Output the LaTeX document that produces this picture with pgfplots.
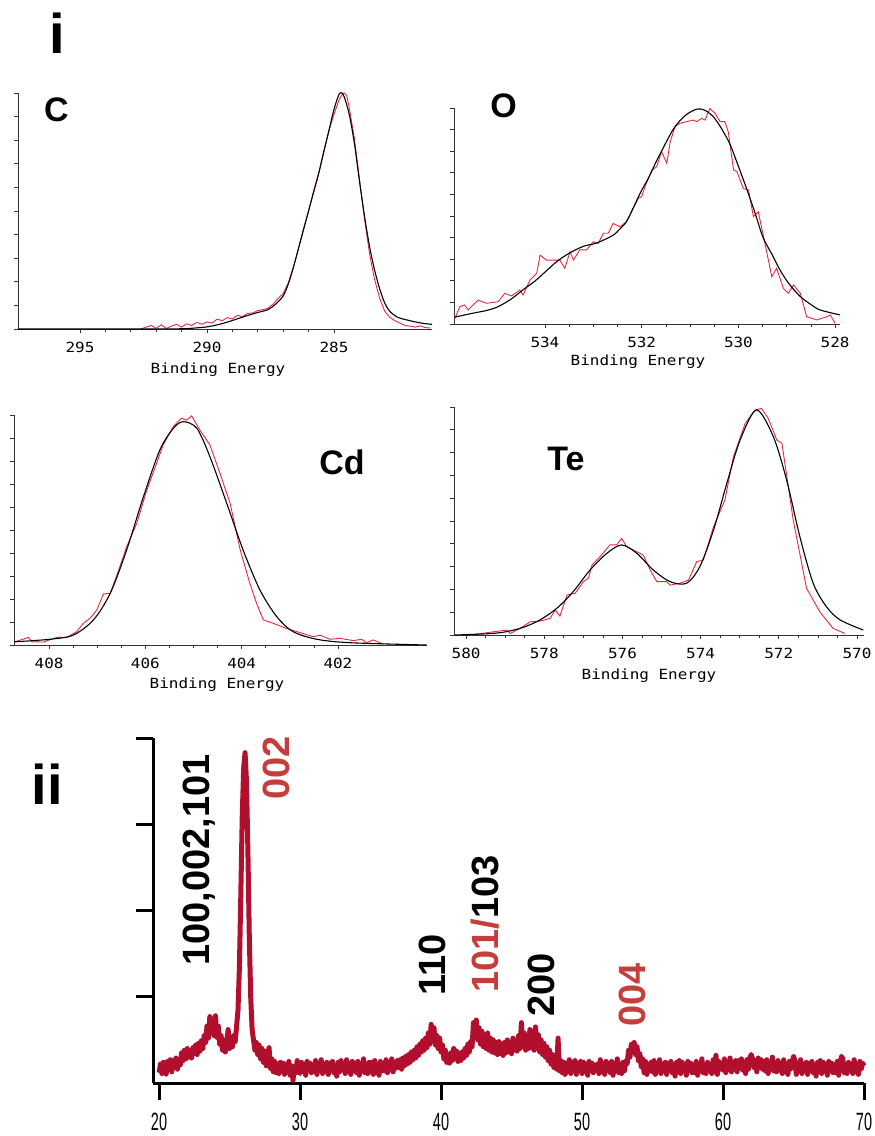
\documentclass[border=0pt]{standalone}
\usepackage{fontspec}
\setmainfont{Liberation Sans}
\newfontfamily\xpsfont{DejaVu Sans Mono}
\usepackage{pgfplots}
\pgfplotsset{compat=1.18}
\definecolor{xpsred}{RGB}{232,40,60}
\definecolor{xrdred}{RGB}{178,14,46}
\definecolor{lblred}{RGB}{198,62,58}
\pgfplotsset{
  xps/.style={
    scale only axis, anchor=south west,
    axis x line=bottom, axis y line=left,
    axis line style={-, line width=0.9pt, black!80},
    x dir=reverse,
    ymin=0, ymax=100,
    ytick={0,10,...,100}, yticklabels={},
    tick align=outside,
    major tick length=3.5pt, minor tick length=2.5pt,
    tick style={line width=0.7pt, black!80},
    /pgf/number format/assume math mode=true,
    xticklabel style={font=\xpsfont\fontsize{14}{14}\selectfont, xscale=1.14},
    xticklabel shift=6pt,
    clip=false,
  },
  fitline/.style={black, line width=1.1pt, smooth},
  dataline/.style={xpsred, line width=0.9pt},
}
\newcommand{\elfont}{\bfseries\fontsize{34}{36}\selectfont}
\newcommand{\befont}{\xpsfont\fontsize{14}{14}\selectfont}
\newcommand{\pkfont}{\bfseries\fontsize{38}{40}\selectfont}
\begin{document}
\begin{tikzpicture}
\useasboundingbox (0pt,0pt) rectangle (875pt,-1136pt);

% ---------------- C ----------------
\begin{axis}[xps, at={(18pt,-329pt)}, width=414pt, height=236pt,
  xmin=281.14, xmax=297.44, xtick={295,290,285}, minor x tick num=4]
\addplot[dataline] coordinates {(292.6,0)(292.4,0.8)(292.2,1.5)(292.0,0.3)(291.8,1.8)(291.6,0.2)(291.4,1.2)(291.2,2.0)(291.0,0.8)(290.8,2.2)(290.6,1.5)(290.4,2.8)(290.2,2.0)(290.0,3.0)(289.8,2.5)(289.6,4.2)(289.4,3.5)(289.2,4.8)(289.0,4.3)(288.8,5.8)(288.6,5.2)(288.4,6.6)(288.2,6.8)(288.0,7.8)(287.8,8.2)(287.6,8.8)(287.4,10.5)(287.2,13)(287.0,15)(286.8,19.5)(286.6,26)(286.4,34)(286.2,42.5)(286.0,50)(285.8,58.5)(285.6,66)(285.4,75.5)(285.2,84)(285.0,91)(284.8,97)(284.7,99)(284.6,100)(284.5,99)(284.4,94)(284.2,81)(284.0,64)(283.8,47)(283.6,32)(283.4,21)(283.2,13)(283.0,7.5)(282.8,5)(282.6,3.5)(282.4,2.5)(282.2,1.5)(282.0,1.2)(281.8,0.8)(281.6,1.3)(281.4,0.6)(281.2,0.4)};
\addplot[fitline] coordinates {(297.44,0)(293,0)(291,0.1)(290.5,0.4)(290,0.9)(289.5,2)(289,3.6)(288.5,5.4)(288,7)(287.6,8.2)(287.3,10.5)(287,14)(286.8,19)(286.6,26)(286.4,34)(286.2,42)(286,50)(285.8,58)(285.6,66)(285.4,75)(285.2,84)(285,93)(284.8,99.5)(284.7,100)(284.6,98.5)(284.4,91)(284.2,79)(284,63)(283.8,48)(283.6,35)(283.4,25)(283.2,17)(283,11)(282.8,7.5)(282.5,5)(282,3.5)(281.5,2.4)(281.14,2)};
\end{axis}

% ---------------- O ----------------
\begin{axis}[xps, at={(454pt,-324pt)}, width=386pt, height=216pt,
  xmin=527.9, xmax=535.88, xtick={534,532,530,528}, minor x tick num=3]
\addplot[dataline] coordinates {(535.86,2.6)(535.76,8.0)(535.66,8.8)(535.59,6.5)(535.38,11.1)(535.21,9.6)(534.97,10.3)(534.83,14.2)(534.69,13)(534.52,15.7)(534.45,13.4)(534.31,20.4)(534.17,23.5)(534.10,31.9)(533.97,29.6)(533.69,29.6)(533.59,25.8)(533.48,33.5)(533.41,29.6)(533.28,34.3)(533.14,34.3)(533.00,38.1)(532.90,37.3)(532.79,42)(532.69,42)(532.59,46.6)(532.45,45)(532.31,47.4)(532.21,52)(532.07,58.2)(532.00,58.9)(531.93,63.6)(531.79,71.3)(531.69,72.8)(531.59,79.8)(531.48,74.4)(531.41,84.4)(531.31,91.4)(531.21,92.9)(531.07,93.7)(530.93,94.4)(530.86,93.7)(530.76,95.2)(530.69,94.4)(530.59,99.8)(530.48,97.5)(530.38,93.7)(530.28,93.7)(530.21,89)(530.10,71.3)(530.03,70.5)(529.90,62.8)(529.79,62)(529.69,49.7)(529.59,52)(529.48,40.4)(529.31,21.9)(529.21,25.8)(529.07,16.5)(528.97,14.2)(528.86,18.1)(528.72,14.2)(528.59,3.4)(528.38,1.9)(528.17,3.4)(528.10,4.2)(528.00,0.3)};
\addplot[fitline] coordinates {(535.86,3.2)(535.49,5)(535.2,6.3)(534.97,8)(534.7,11.5)(534.46,15.7)(534.2,20)(534,24)(533.75,29)(533.48,33)(533.2,36)(532.93,37.5)(532.6,41)(532.45,44)(532.3,48)(532.03,60.6)(531.85,68)(531.68,76)(531.35,90)(531.1,96.5)(530.86,99.5)(530.7,99)(530.52,96)(530.35,90.5)(530.17,83)(530.0,73)(529.82,62)(529.65,51)(529.49,40)(529.3,32)(529.14,25)(528.95,18.5)(528.72,12.7)(528.5,9)(528.31,6.5)(527.9,4.2)};
\end{axis}

% ---------------- Cd ----------------
\begin{axis}[xps, at={(14pt,-645pt)}, width=413pt, height=230pt,
  xmin=400.15, xmax=408.73, xtick={408,406,404,402}, minor x tick num=3]
\addplot[dataline] coordinates {(408.71,1.4)(408.43,3.3)(408.36,1.4)(408.12,1.3)(407.84,3.3)(407.63,3.3)(407.43,5.8)(407.29,9.4)(407.15,11.6)(407.01,15.2)(406.87,22.2)(406.73,22.5)(406.59,30.4)(406.39,42.7)(406.18,52.9)(405.97,67.4)(405.83,75.4)(405.63,87)(405.42,95)(405.25,98.6)(405.14,97.8)(405.04,99.6)(404.87,93.5)(404.66,87)(404.45,74.6)(404.24,61.6)(404.03,41.3)(403.83,26.8)(403.69,18.1)(403.55,10.9)(403.34,9.4)(403.07,7.2)(402.79,5.4)(402.51,3.6)(402.37,4.3)(402.17,2.5)(401.96,2.9)(401.68,1.9)(401.51,2.5)(401.40,1.0)(401.27,2.2)(401.06,0.4)};
\addplot[fitline] coordinates {(408.71,1.4)(407.98,2.5)(407.5,4.3)(407.08,10.9)(406.73,22.5)(406.39,41.3)(406.04,64.5)(405.70,84.8)(405.42,94.2)(405.21,97.1)(404.93,94.2)(404.66,81.9)(404.31,61.6)(403.97,41.3)(403.62,23.9)(403.27,12.3)(402.93,5.8)(402.44,2.5)(401.75,1.0)(400.16,0)};
\end{axis}

% ---------------- Te ----------------
\begin{axis}[xps, at={(454pt,-635pt)}, width=410pt, height=228pt,
  xmin=569.82, xmax=580.31, xtick={580,578,576,574,572,570}, minor x tick num=3]
\addplot[dataline] coordinates {(579.9,0)(578.96,2.2)(578.87,0.7)(578.62,2.9)(578.36,5.8)(578.11,6.1)(577.85,7.3)(577.72,11)(577.60,8.3)(577.42,17.5)(577.21,18.3)(577.00,23.4)(576.87,24.9)(576.78,30.7)(576.57,34.4)(576.32,39.5)(576.15,39.5)(576.02,42.4)(575.89,38.7)(575.63,36.5)(575.47,35.1)(575.29,28.5)(575.12,23.4)(574.87,23.4)(574.78,21.9)(574.53,22.7)(574.31,24.1)(574.10,32.2)(573.93,32.9)(573.67,47.5)(573.38,59.2)(573.16,78.2)(572.86,92.8)(572.61,98.7)(572.44,99.4)(572.27,95)(572.05,85.5)(571.92,84.1)(571.63,50.4)(571.29,20.5)(570.95,10.2)(570.61,2.9)(570.31,0.7)};
\addplot[fitline] coordinates {(580.28,0)(579.39,0.6)(578.96,1.5)(578.53,3.4)(578.11,6.6)(577.68,11.7)(577.26,19)(576.83,28.5)(576.40,35.8)(576.02,39.5)(575.63,35.8)(575.21,28.5)(574.78,23.4)(574.36,22.7)(574.02,30)(573.67,46)(573.33,66.5)(572.99,85.5)(572.57,98.7)(572.14,87)(571.80,68)(571.46,43.1)(571.12,22.7)(570.78,12.4)(570.43,6.6)(569.84,2.2)};
\end{axis}

% ---------------- XRD ----------------
\begin{axis}[scale only axis, anchor=south west, at={(153pt,-1083pt)},
  width=711pt, height=345pt,
  xmin=19.57, xmax=70, ymin=0, ymax=4,
  axis x line=bottom, axis y line=left,
  axis line style={-, line width=3pt, black},
  xtick={20,30,...,70}, ytick={1,2,3,4}, yticklabels={},
  tick align=outside, major tick length=17pt,
  tick style={line width=3pt, black},
  /pgf/number format/assume math mode=true,
  xticklabel style={font=\fontsize{25}{25}\selectfont, xscale=0.58},
  xticklabel shift=9pt,
  clip=false]
\addplot[xrdred, line width=5pt, line join=round] coordinates {
(20.0,0.12)(20.1,0.22)(20.2,0.11)(20.3,0.24)(20.4,0.15)(20.5,0.10)(20.6,0.25)(20.7,0.17)(20.8,0.27)(20.9,0.13)
(21.0,0.26)(21.1,0.19)(21.2,0.29)(21.3,0.16)(21.4,0.27)(21.5,0.21)(21.6,0.35)(21.7,0.26)(21.8,0.38)(21.9,0.28)
(22.0,0.40)(22.1,0.30)(22.2,0.37)(22.3,0.29)(22.4,0.41)(22.5,0.34)(22.6,0.44)(22.7,0.33)(22.8,0.46)(22.9,0.37)
(23.0,0.49)(23.1,0.40)(23.2,0.55)(23.3,0.47)(23.4,0.66)(23.5,0.52)(23.6,0.77)(23.7,0.58)(23.8,0.74)(23.9,0.55)
(24.0,0.78)(24.1,0.53)(24.2,0.66)(24.3,0.45)(24.4,0.55)(24.5,0.38)(24.6,0.50)(24.7,0.36)(24.8,0.47)(24.9,0.62)
(25.0,0.40)(25.1,0.52)(25.2,0.42)(25.3,0.55)(25.4,0.48)(25.5,0.66)(25.6,0.85)(25.7,1.35)(25.8,2.20)(25.9,3.10)
(26.0,3.65)(26.1,3.83)(26.2,3.50)(26.3,2.70)(26.4,1.70)(26.5,1.00)(26.6,0.62)(26.7,0.50)(26.8,0.38)(26.9,0.47)
(27.0,0.33)(27.1,0.44)(27.2,0.28)(27.3,0.40)(27.4,0.24)(27.5,0.37)(27.6,0.20)(27.7,0.30)(27.8,0.41)(27.9,0.17)
(28.0,0.28)(28.1,0.13)(28.2,0.25)(28.3,0.12)(28.4,0.22)(28.5,0.11)(28.6,0.24)(28.7,0.14)(28.8,0.23)(28.9,0.10)
(29.0,0.21)(29.1,0.13)(29.2,0.25)(29.3,0.09)(29.4,0.20)(29.5,0.03)(29.6,0.19)(29.7,0.12)(29.8,0.26)(29.9,0.14)
(30.0,0.11)(30.1,0.24)(30.2,0.14)(30.3,0.22)(30.4,0.09)(30.5,0.25)(30.6,0.15)(30.7,0.23)(30.8,0.12)(30.9,0.21)
(31.0,0.13)(31.1,0.26)(31.2,0.10)(31.3,0.20)(31.4,0.15)(31.5,0.27)(31.6,0.11)(31.7,0.22)(31.8,0.14)(31.9,0.24)
(32.0,0.10)(32.1,0.23)(32.2,0.16)(32.3,0.25)(32.4,0.12)(32.5,0.20)(32.6,0.08)(32.7,0.24)(32.8,0.13)(32.9,0.26)
(33.0,0.15)(33.1,0.22)(33.2,0.11)(33.3,0.27)(33.4,0.13)(33.5,0.21)(33.6,0.10)(33.7,0.25)(33.8,0.16)(33.9,0.23)
(34.0,0.12)(34.1,0.25)(34.2,0.09)(34.3,0.22)(34.4,0.14)(34.5,0.28)(34.6,0.12)(34.7,0.20)(34.8,0.11)(34.9,0.24)
(35.0,0.13)(35.1,0.24)(35.2,0.10)(35.3,0.26)(35.4,0.12)(35.5,0.21)(35.6,0.09)(35.7,0.25)(35.8,0.14)(35.9,0.23)
(36.0,0.14)(36.1,0.27)(36.2,0.12)(36.3,0.22)(36.4,0.16)(36.5,0.28)(36.6,0.13)(36.7,0.24)(36.8,0.17)(36.9,0.26)
(37.0,0.18)(37.1,0.27)(37.2,0.16)(37.3,0.29)(37.4,0.20)(37.5,0.31)(37.6,0.22)(37.7,0.33)(37.8,0.24)(37.9,0.36)
(38.0,0.27)(38.1,0.38)(38.2,0.29)(38.3,0.42)(38.4,0.32)(38.5,0.45)(38.6,0.36)(38.7,0.49)(38.8,0.38)(38.9,0.52)
(39.0,0.41)(39.1,0.58)(39.2,0.45)(39.3,0.68)(39.4,0.50)(39.5,0.64)(39.6,0.44)(39.7,0.55)(39.8,0.40)(39.9,0.52)
(40.0,0.36)(40.1,0.44)(40.2,0.28)(40.3,0.38)(40.4,0.24)(40.5,0.33)(40.6,0.23)(40.7,0.35)(40.8,0.26)(40.9,0.40)
(41.0,0.29)(41.1,0.37)(41.2,0.25)(41.3,0.34)(41.4,0.26)(41.5,0.36)(41.6,0.29)(41.7,0.40)(41.8,0.32)(41.9,0.45)
(42.0,0.36)(42.1,0.48)(42.2,0.42)(42.3,0.70)(42.4,0.55)(42.5,0.73)(42.6,0.50)(42.7,0.64)(42.8,0.45)(42.9,0.60)
(43.0,0.42)(43.1,0.56)(43.2,0.40)(43.3,0.58)(43.4,0.38)(43.5,0.52)(43.6,0.36)(43.7,0.50)(43.8,0.35)(43.9,0.47)
(44.0,0.33)(44.1,0.48)(44.2,0.34)(44.3,0.45)(44.4,0.32)(44.5,0.47)(44.6,0.35)(44.7,0.50)(44.8,0.36)(44.9,0.46)
(45.0,0.34)(45.1,0.52)(45.2,0.38)(45.3,0.49)(45.4,0.37)(45.5,0.55)(45.6,0.40)(45.7,0.70)(45.8,0.42)(45.9,0.58)
(46.0,0.38)(46.1,0.55)(46.2,0.40)(46.3,0.62)(46.4,0.41)(46.5,0.60)(46.6,0.38)(46.7,0.65)(46.8,0.40)(46.9,0.56)
(47.0,0.36)(47.1,0.50)(47.2,0.33)(47.3,0.46)(47.4,0.30)(47.5,0.42)(47.6,0.26)(47.7,0.38)(47.8,0.22)(47.9,0.33)
(48.0,0.18)(48.1,0.30)(48.2,0.16)(48.3,0.52)(48.4,0.14)(48.5,0.26)(48.6,0.12)(48.7,0.24)(48.8,0.10)(48.9,0.23)
(49.0,0.13)(49.1,0.27)(49.2,0.11)(49.3,0.24)(49.4,0.15)(49.5,0.26)(49.6,0.10)(49.7,0.23)(49.8,0.14)(49.9,0.25)
(50.0,0.11)(50.1,0.24)(50.2,0.14)(50.3,0.22)(50.4,0.09)(50.5,0.25)(50.6,0.15)(50.7,0.23)(50.8,0.12)(50.9,0.21)
(51.0,0.15)(51.1,0.22)(51.2,0.11)(51.3,0.27)(51.4,0.13)(51.5,0.21)(51.6,0.10)(51.7,0.25)(51.8,0.16)(51.9,0.23)
(52.0,0.12)(52.1,0.25)(52.2,0.09)(52.3,0.22)(52.4,0.14)(52.5,0.28)(52.6,0.12)(52.7,0.20)(52.8,0.11)(52.9,0.24)
(53.0,0.14)(53.1,0.26)(53.2,0.22)(53.3,0.38)(53.4,0.30)(53.5,0.45)(53.6,0.36)(53.7,0.47)(53.8,0.33)(53.9,0.42)
(54.0,0.26)(54.1,0.34)(54.2,0.19)(54.3,0.28)(54.4,0.12)(54.5,0.25)(54.6,0.10)(54.7,0.22)(54.8,0.14)(54.9,0.24)
(55.0,0.13)(55.1,0.26)(55.2,0.10)(55.3,0.20)(55.4,0.15)(55.5,0.27)(55.6,0.11)(55.7,0.22)(55.8,0.14)(55.9,0.24)
(56.0,0.10)(56.1,0.23)(56.2,0.16)(56.3,0.25)(56.4,0.12)(56.5,0.20)(56.6,0.08)(56.7,0.24)(56.8,0.13)(56.9,0.26)
(57.0,0.11)(57.1,0.24)(57.2,0.14)(57.3,0.22)(57.4,0.09)(57.5,0.25)(57.6,0.15)(57.7,0.23)(57.8,0.12)(57.9,0.21)
(58.0,0.12)(58.1,0.25)(58.2,0.09)(58.3,0.22)(58.4,0.14)(58.5,0.28)(58.6,0.12)(58.7,0.20)(58.8,0.11)(58.9,0.24)
(59.0,0.15)(59.1,0.22)(59.2,0.11)(59.3,0.27)(59.4,0.13)(59.5,0.32)(59.6,0.10)(59.7,0.25)(59.8,0.16)(59.9,0.23)
(60.0,0.15)(60.1,0.28)(60.2,0.12)(60.3,0.22)(60.4,0.17)(60.5,0.29)(60.6,0.13)(60.7,0.24)(60.8,0.16)(60.9,0.26)
(61.0,0.13)(61.1,0.26)(61.2,0.19)(61.3,0.28)(61.4,0.15)(61.5,0.23)(61.6,0.11)(61.7,0.27)(61.8,0.16)(61.9,0.29)
(62.0,0.33)(62.1,0.28)(62.2,0.18)(62.3,0.26)(62.4,0.13)(62.5,0.29)(62.6,0.19)(62.7,0.27)(62.8,0.16)(62.9,0.25)
(63.0,0.14)(63.1,0.27)(63.2,0.11)(63.3,0.24)(63.4,0.16)(63.5,0.30)(63.6,0.14)(63.7,0.22)(63.8,0.13)(63.9,0.26)
(64.0,0.15)(64.1,0.22)(64.2,0.11)(64.3,0.27)(64.4,0.13)(64.5,0.21)(64.6,0.10)(64.7,0.25)(64.8,0.16)(64.9,0.23)
(65.0,0.31)(65.1,0.26)(65.2,0.10)(65.3,0.20)(65.4,0.15)(65.5,0.27)(65.6,0.11)(65.7,0.22)(65.8,0.14)(65.9,0.24)
(66.0,0.10)(66.1,0.23)(66.2,0.16)(66.3,0.25)(66.4,0.12)(66.5,0.20)(66.6,0.08)(66.7,0.24)(66.8,0.13)(66.9,0.26)
(67.0,0.11)(67.1,0.24)(67.2,0.14)(67.3,0.22)(67.4,0.09)(67.5,0.25)(67.6,0.15)(67.7,0.23)(67.8,0.12)(67.9,0.21)
(68.0,0.12)(68.1,0.25)(68.2,0.09)(68.3,0.22)(68.4,0.31)(68.5,0.28)(68.6,0.12)(68.7,0.20)(68.8,0.11)(68.9,0.24)
(69.0,0.15)(69.1,0.22)(69.2,0.11)(69.3,0.27)(69.4,0.13)(69.5,0.21)(69.6,0.10)(69.7,0.25)(69.8,0.16)(69.9,0.23)
(70.0,0.20)};
\end{axis}

% ---------------- labels ----------------
\node[font=\bfseries\fontsize{56}{58}\selectfont] at (57pt,-33.5pt) {i};
\node[font=\bfseries\fontsize{56}{58}\selectfont] at (47pt,-784pt) {ii};
\node[font=\elfont] at (56.5pt,-110pt) {C};
\node[font=\elfont] at (503.5pt,-106pt) {O};
\node[font=\elfont] at (342pt,-462pt) {Cd};
\node[font=\elfont] at (566pt,-459pt) {Te};
\node[font=\befont, xscale=1.14] at (218pt,-370pt) {Binding Energy};
\node[font=\befont, xscale=1.14] at (638pt,-362pt) {Binding Energy};
\node[font=\befont, xscale=1.14] at (217pt,-685pt) {Binding Energy};
\node[font=\befont, xscale=1.14] at (649pt,-676pt) {Binding Energy};
\node[font=\pkfont, rotate=90] at (199pt,-860pt) {100,002,101};
\node[font=\pkfont, rotate=90, text=lblred] at (276pt,-768pt) {002};
\node[font=\pkfont, rotate=90] at (432pt,-965pt) {110};
\node[font=\pkfont, rotate=90] at (485pt,-924pt) {\textcolor{lblred}{101/}103};
\node[font=\pkfont, rotate=90] at (541pt,-985pt) {200};
\node[font=\pkfont, rotate=90, text=lblred] at (632pt,-995pt) {004};
\end{tikzpicture}
\end{document}
